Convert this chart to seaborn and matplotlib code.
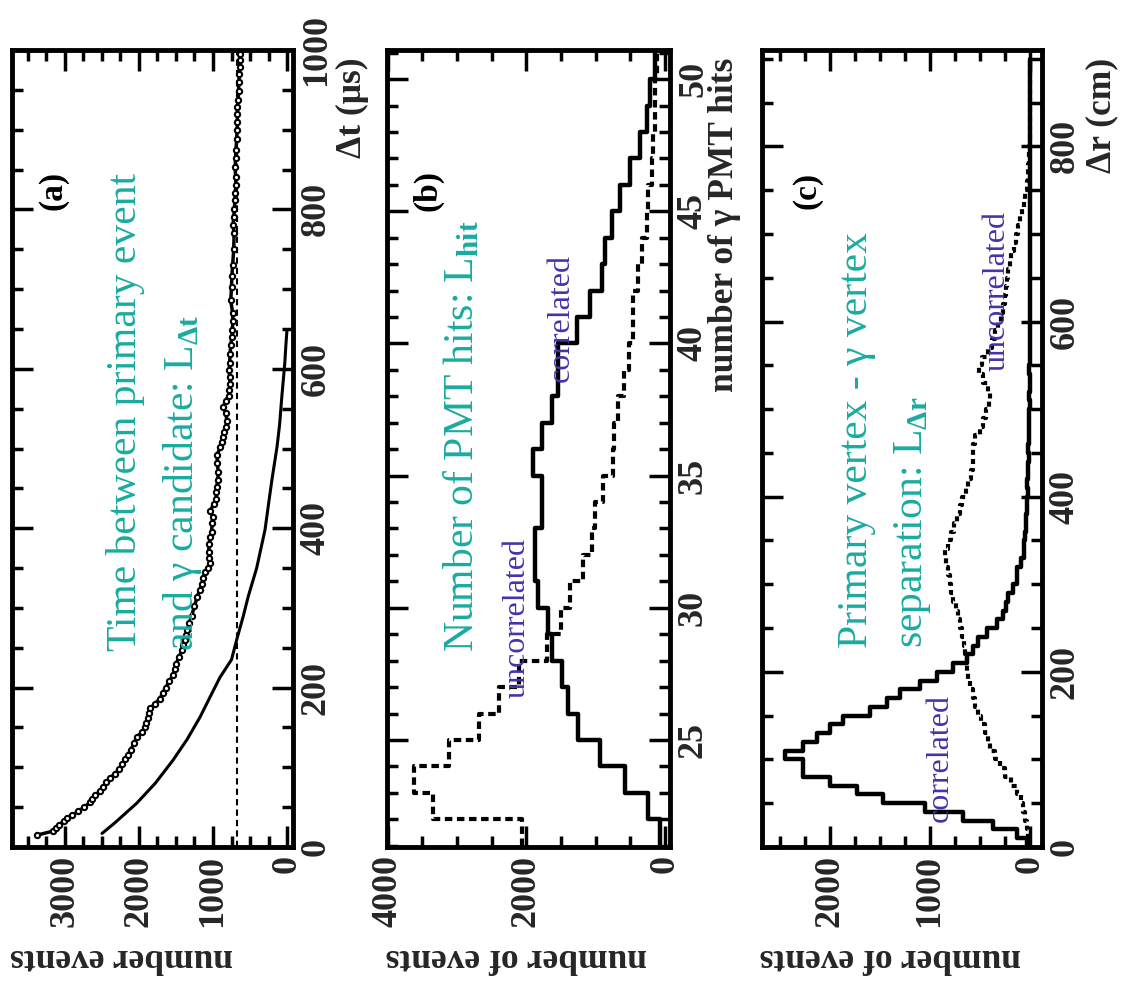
import matplotlib
matplotlib.use("Agg")
import matplotlib.pyplot as plt
from matplotlib.ticker import MultipleLocator
import seaborn as sns

# (a) time between primary event and gamma candidate
dt_data = [15, 20, 24, 28, 32, 36, 40, 45, 50, 56, 60, 65, 70, 75, 81, 87, 92, 98, 104, 110,
           116, 122, 130, 138, 144, 150, 156, 162, 168, 174, 180, 186, 193, 200, 208, 216, 223,
           230, 238, 247, 254, 260, 266, 272, 281, 290, 302, 314, 322, 330, 338, 345, 350, 356,
           363, 370, 380, 389, 395,
           407, 414, 422, 430, 437, 445, 452, 460, 470, 482, 492, 502, 508, 515, 521, 527, 535,
           544, 552, 560, 566, 573, 581, 590, 598, 607, 618, 630, 640, 649, 660, 670, 686, 703,
           716, 730, 750, 770, 780, 790, 801, 812, 821, 830, 841, 853, 864, 875, 888, 900, 910,
           920, 928, 937, 948, 960, 970, 979, 987, 995]
n_data = [3375, 3160, 3120, 3080, 3020, 2970, 2900, 2820, 2740, 2660, 2630, 2590, 2530, 2480,
          2440, 2390, 2320, 2270, 2230, 2190, 2150, 2110, 2070, 2030, 1960, 1920, 1900, 1880,
          1870, 1850, 1780, 1720, 1680, 1640, 1590, 1540, 1520, 1500, 1460, 1420, 1400, 1380,
          1365, 1350, 1320, 1290, 1250, 1215, 1180, 1150, 1130, 1110, 1070, 1040, 1050, 1060,
          1050, 1040, 1020,
          1010, 1000, 1040, 990, 960, 955, 950, 935, 930, 940, 945, 900, 880, 870, 850, 830,
          810, 830, 860, 830, 790, 780, 770, 775, 780, 775, 770, 760, 745, 740, 730, 735, 760,
          750, 745, 735, 720, 715, 730, 720, 710, 705, 700, 690, 695, 700, 695, 690, 680, 675,
          670, 672, 670, 660, 655, 650, 645, 635, 640, 640]
dt_fit = [17, 30, 55, 80, 109, 135, 163, 190, 213, 235, 260, 290, 314, 350, 398, 430, 460,
          502, 530, 565, 607, 630, 649]
n_fit = [2500, 2330, 2030, 1780, 1540, 1350, 1175, 1030, 905, 750, 680, 590, 525, 410, 297,
         250, 205, 135, 100, 70, 30, 15, 0]
dt_flat = [0, 1000]
n_flat = [675, 675]

# (b) number of gamma PMT hits, bins 21..51
hit_edges = list(range(21, 52))
hit_corr = [70, 245, 575, 935, 1250, 1395, 1490, 1630, 1690, 1830, 1870, 1870, 1770, 1770,
            1910, 1770, 1630, 1540, 1540, 1270, 1090, 910, 865, 765, 650, 505, 360, 260, 215, 145]
hit_uncorr = [2060, 3350, 3620, 3120, 2690, 2400, 2100, 1700, 1500, 1365, 1180, 1050, 1005,
              890, 750, 735, 675, 590, 515, 460, 460, 390, 330, 260, 245, 190, 170, 145, 145, 115]

# (c) vertex separation, 10 cm bins 0..900
dr_edges = list(range(0, 910, 10))
dr_corr = [30, 130, 370, 670, 1050, 1470, 1730, 2000, 2270, 2270,
           2450, 2270, 2130, 2000, 1870, 1600, 1430, 1300, 1100, 930,
           770, 630, 570, 520, 430, 330, 270, 240, 220, 170,
           130, 130, 90, 60, 60, 50, 40, 40, 30, 30,
           20, 30, 20, 20, 10, 20, 10, 10, 10, 10,
           0, 10, 0, 0, 10, 0, 0, 0, 0, 0,
           0, 0, 0, 0, 0, 0, 0, 0, 0, 0,
           0, 0, 0, 0, 0, 0, 0, 0, 0, 0,
           0, 0, 0, 0, 0, 0, 0, 0, 0, 0]
dr_uncorr = [10, 20, 30, 50, 70, 90, 130, 190, 250, 300,
             350, 400, 420, 450, 490, 520, 550, 570, 600, 620,
             630, 630, 650, 660, 680, 700, 720, 740, 770, 790,
             800, 820, 840, 850, 820, 790, 760, 730, 700, 680,
             640, 620, 590, 570, 570, 570, 550, 500, 470, 440,
             410, 400, 420, 470, 510, 480, 420, 380, 350, 320,
             290, 270, 250, 240, 230, 220, 200, 190, 160, 140,
             120, 100, 80, 60, 50, 30, 20, 20, 10, 10,
             0, 0, 0, 0, 0, 0, 0, 0, 0, 0]

TEAL = "#1aab9f"
BLUE = "#4433aa"

sns.set_style("ticks")
plt.rcParams['font.family'] = ['Liberation Serif', 'DejaVu Serif']
plt.rcParams['font.weight'] = 'bold'
plt.rcParams['mathtext.fontset'] = 'custom'
plt.rcParams['mathtext.rm'] = 'Liberation Serif'
plt.rcParams['mathtext.it'] = 'Liberation Serif:italic'
plt.rcParams['mathtext.bf'] = 'Liberation Serif:bold'

fig = plt.figure(figsize=(11.22, 9.83), dpi=100)
H = 983.0
W = 1122.0
ax_a = fig.add_axes([12 / W, 136 / H, 281 / W, 797 / H])
ax_b = fig.add_axes([387 / W, 136 / H, 283 / W, 797 / H])
ax_c = fig.add_axes([762 / W, 136 / H, 280 / W, 797 / H])


def style(ax, xlim, ylim, xmaj, xmin, ymaj, ymin, xlabel, xlab_x, ylabel, ylab_x):
    ax.set_xlim(*xlim)
    ax.set_ylim(*ylim)
    ax.xaxis.set_major_locator(MultipleLocator(xmaj))
    ax.xaxis.set_minor_locator(MultipleLocator(xmin))
    ax.yaxis.set_major_locator(MultipleLocator(ymaj))
    ax.yaxis.set_minor_locator(MultipleLocator(ymin))
    ax.tick_params(which='both', direction='in', top=True, bottom=True, left=True, right=True,
                   labelleft=False, labelright=True, width=2.5, color='black')
    ax.tick_params(which='major', length=15)
    ax.tick_params(which='minor', length=8)
    ax.tick_params(axis='x', labelrotation=90, pad=6, labelsize=26)
    ax.tick_params(axis='y', labelrotation=90, pad=5, labelsize=26)
    for lbl in ax.get_yticklabels():
        lbl.set_va('center')
    for s in ax.spines.values():
        s.set_linewidth(3.5)
        s.set_color('black')
    ax.set_xlabel(xlabel, rotation=180, fontsize=25.5, fontweight='bold')
    ax.xaxis.set_label_coords(xlab_x, -0.139)
    ax.xaxis.label.set_rotation_mode('anchor')
    ax.xaxis.label.set_ha('center')
    ax.xaxis.label.set_va('center')
    ax.set_ylabel(ylabel, rotation=90, fontsize=25.5, fontweight='bold')
    ax.yaxis.set_label_position('right')
    ax.yaxis.set_label_coords(ylab_x, 0.99)
    ax.yaxis.label.set_rotation_mode('anchor')
    ax.yaxis.label.set_ha('right')
    ax.yaxis.label.set_va('center')


def note(ax, x, y, s, color, size, ha='left', va='baseline', weight='normal'):
    ax.text(x, y, s, transform=ax.transAxes, rotation=90, rotation_mode='anchor',
            ha=ha, va=va, color=color, fontsize=size, fontweight=weight)


# panel (a)
sns.lineplot(x=n_flat, y=dt_flat, orient='y', estimator=None, sort=False, ax=ax_a,
             color='black', lw=1.5, linestyle=(0, (3, 2)))
sns.lineplot(x=n_fit, y=dt_fit, orient='y', estimator=None, sort=False, ax=ax_a,
             color='black', lw=2.2)
sns.lineplot(x=n_data, y=dt_data, orient='y', estimator=None, sort=False, ax=ax_a,
             color='black', lw=2.5, marker='o', ms=3.8, markerfacecolor='white',
             markeredgecolor='black', markeredgewidth=1.5)
style(ax_a, (3716, -81), (0, 1000), 1000, 250, 200, 50,
      "number events", 0.39, "Δt (μs)", 1.21)
note(ax_a, 0.441, 0.246, "Time between primary event", TEAL, 30)
note(ax_a, 0.644, 0.246, r"and γ candidate: L$_{\Delta\mathrm{t}}$", TEAL, 30)
note(ax_a, 0.146, 0.824, "(a)", 'black', 24, ha='center', va='center', weight='bold')

# panel (b)
hit_centers = [e + 0.5 for e in hit_edges[:-1]]
sns.histplot(y=hit_centers, weights=hit_uncorr, bins=hit_edges, element='step', fill=False,
             color='black', lw=3, linestyle=(0, (1.8, 1.1)), ax=ax_b)
sns.histplot(y=hit_centers, weights=hit_corr, bins=hit_edges, element='step', fill=False,
             color='black', lw=3.2, ax=ax_b)
style(ax_b, (4010, -70), (20.95, 51.1), 2000, 500, 5, 1,
      "number of events", 0.456, "number of γ PMT hits", 1.194)
note(ax_b, 0.304, 0.245, r"Number of PMT hits: L$_{\mathrm{hit}}$", TEAL, 30)
note(ax_b, 0.145, 0.824, "(b)", 'black', 24, ha='center', va='center', weight='bold')
note(ax_b, 0.459, 0.287, "uncorrelated", BLUE, 23, ha='center', va='center')
note(ax_b, 0.615, 0.664, "correlated", BLUE, 23, ha='center', va='center')

# panel (c)
dr_centers = [e + 5 for e in dr_edges[:-1]]
sns.histplot(y=dr_centers, weights=dr_uncorr, bins=dr_edges, element='step', fill=False,
             color='black', lw=3, linestyle=(0, (1.2, 1.0)), ax=ax_c)
sns.histplot(y=dr_centers, weights=dr_corr, bins=dr_edges, element='step', fill=False,
             color='black', lw=3.2, ax=ax_c)
style(ax_c, (2680, -120), (0, 910), 1000, 250, 200, 50,
      "number of events", 0.457, "Δr (cm)", 1.214)
note(ax_c, 0.375, 0.25, "Primary vertex - γ vertex", TEAL, 30)
note(ax_c, 0.571, 0.25, r"separation: L$_{\Delta\mathrm{r}}$", TEAL, 30)
note(ax_c, 0.161, 0.824, "(c)", 'black', 24, ha='center', va='center', weight='bold')
note(ax_c, 0.636, 0.112, "correlated", BLUE, 23, ha='center', va='center')
note(ax_c, 0.84, 0.698, "uncorrelated", BLUE, 23, ha='center', va='center')

fig.savefig("out.png", dpi=100)
